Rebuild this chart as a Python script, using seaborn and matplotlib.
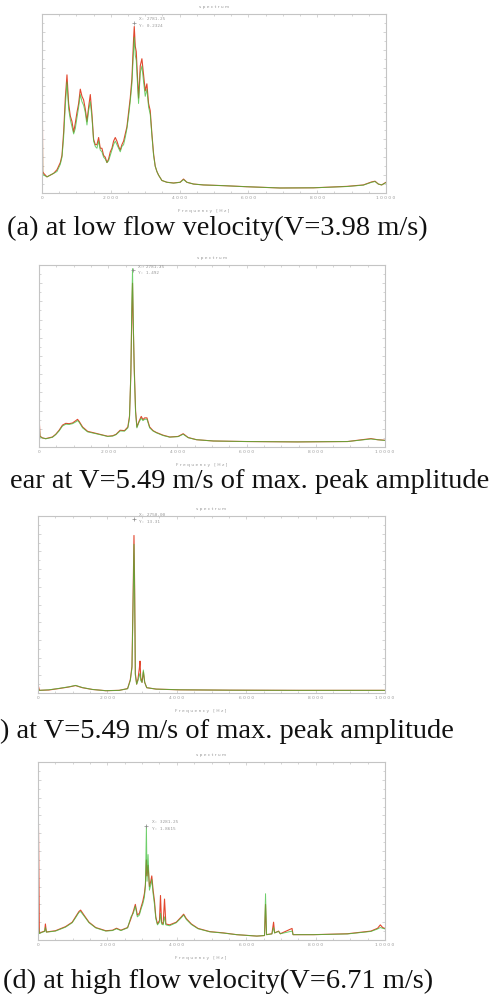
import matplotlib
matplotlib.use("Agg")
import matplotlib.pyplot as plt
import seaborn as sns
import pandas as pd
from matplotlib.ticker import MultipleLocator

# (a) low flow velocity
freq_a = [0, 20, 48, 145, 242, 339, 436, 532, 581, 629, 678, 726, 774, 823, 871, 920,
          968, 1016, 1065, 1113, 1162, 1210, 1258, 1307, 1355, 1404, 1452, 1500, 1549,
          1597, 1646, 1694, 1742, 1791, 1839, 1888, 1936, 1985, 2033, 2081, 2130, 2178,
          2227, 2275, 2323, 2372, 2420, 2469, 2517, 2565, 2614, 2662, 2682, 2711, 2740,
          2778, 2807, 2836, 2856, 2904, 2953, 3001, 3049, 3098, 3146, 3195, 3243, 3291,
          3340, 3388, 3485, 3630, 3824, 4017, 4114, 4211, 4405, 4695, 5276, 5954, 6922,
          7890, 8858, 9342, 9584, 9681, 9777, 9874, 10000]
red_a = [0.98, 0.12, 0.11, 0.09, 0.10, 0.11, 0.13, 0.17, 0.21, 0.34, 0.53, 0.66, 0.50,
         0.43, 0.40, 0.34, 0.39, 0.45, 0.50, 0.58, 0.54, 0.52, 0.47, 0.40, 0.48, 0.55,
         0.44, 0.30, 0.27, 0.27, 0.31, 0.25, 0.25, 0.21, 0.20, 0.17, 0.19, 0.23, 0.25,
         0.29, 0.31, 0.29, 0.26, 0.24, 0.27, 0.29, 0.33, 0.37, 0.45, 0.53, 0.64, 0.86,
         0.93, 0.82, 0.79, 0.64, 0.53, 0.63, 0.71, 0.75, 0.66, 0.57, 0.61, 0.50, 0.46,
         0.33, 0.22, 0.15, 0.12, 0.10, 0.07, 0.06, 0.056, 0.06, 0.078, 0.06, 0.05,
         0.045, 0.041, 0.035, 0.028, 0.029, 0.037, 0.045, 0.062, 0.066, 0.05, 0.045, 0.06]
green_a = [0.90, 0.11, 0.10, 0.09, 0.10, 0.11, 0.12, 0.16, 0.20, 0.31, 0.49, 0.62, 0.47,
           0.41, 0.37, 0.33, 0.36, 0.42, 0.48, 0.55, 0.51, 0.49, 0.45, 0.38, 0.46, 0.51,
           0.42, 0.29, 0.26, 0.25, 0.29, 0.24, 0.23, 0.20, 0.19, 0.17, 0.18, 0.21, 0.24,
           0.27, 0.29, 0.27, 0.25, 0.23, 0.26, 0.27, 0.31, 0.36, 0.43, 0.51, 0.61, 0.80,
           0.87, 0.77, 0.74, 0.60, 0.50, 0.60, 0.67, 0.71, 0.62, 0.54, 0.58, 0.48, 0.44,
           0.32, 0.21, 0.15, 0.12, 0.10, 0.07, 0.06, 0.055, 0.06, 0.075, 0.06, 0.05,
           0.045, 0.041, 0.035, 0.028, 0.029, 0.036, 0.044, 0.060, 0.064, 0.05, 0.045, 0.058]

# (b) V=5.49 m/s, near max peak
freq_b = [0, 29, 97, 194, 388, 484, 581, 678, 775, 872, 969, 1066, 1114, 1163, 1260,
          1405, 1647, 1986, 2132, 2229, 2345, 2471, 2568, 2616, 2655, 2684, 2703, 2723,
          2752, 2791, 2829, 2888, 2955, 3004, 3052, 3120, 3198, 3295, 3391, 3585, 3779,
          4021, 4167, 4312, 4554, 5039, 6008, 7461, 8915, 9593, 9787, 10000]
red_b = [0.18, 0.06, 0.05, 0.046, 0.055, 0.07, 0.092, 0.12, 0.13, 0.128, 0.132, 0.145,
         0.152, 0.14, 0.11, 0.086, 0.075, 0.059, 0.062, 0.07, 0.092, 0.09, 0.11, 0.17,
         0.40, 0.75, 0.90, 0.68, 0.44, 0.20, 0.11, 0.14, 0.168, 0.15, 0.16, 0.16, 0.11,
         0.09, 0.08, 0.065, 0.055, 0.058, 0.073, 0.052, 0.04, 0.033, 0.03, 0.028, 0.03,
         0.046, 0.04, 0.037]
green_b = [0.14, 0.055, 0.05, 0.045, 0.053, 0.068, 0.088, 0.115, 0.125, 0.124, 0.128,
           0.138, 0.145, 0.135, 0.105, 0.083, 0.073, 0.058, 0.06, 0.068, 0.088, 0.087,
           0.105, 0.16, 0.42, 0.80, 0.98, 0.72, 0.42, 0.19, 0.105, 0.135, 0.158, 0.145,
           0.152, 0.153, 0.105, 0.088, 0.078, 0.063, 0.054, 0.057, 0.07, 0.051, 0.04,
           0.033, 0.03, 0.028, 0.03, 0.044, 0.04, 0.036]

# (c) V=5.49 m/s, max peak
freq_c = [0, 39, 309, 600, 890, 1083, 1277, 1567, 1954, 2340, 2582, 2660, 2708, 2737,
          2766, 2785, 2805, 2843, 2882, 2921, 2940, 2959, 2998, 3037, 3075, 3133, 3404,
          4081, 5532, 7466, 10000]
red_c = [0.05, 0.015, 0.017, 0.025, 0.034, 0.042, 0.03, 0.02, 0.013, 0.015, 0.025,
         0.075, 0.15, 0.50, 0.89, 0.60, 0.11, 0.05, 0.08, 0.14, 0.18, 0.09, 0.06, 0.12,
         0.06, 0.03, 0.022, 0.018, 0.016, 0.015, 0.015]
green_c = [0.03, 0.015, 0.018, 0.026, 0.035, 0.043, 0.031, 0.02, 0.013, 0.015, 0.024,
           0.07, 0.14, 0.46, 0.84, 0.56, 0.10, 0.05, 0.07, 0.10, 0.11, 0.07, 0.06, 0.13,
           0.06, 0.03, 0.022, 0.018, 0.016, 0.015, 0.015]

# (d) high flow velocity
freq_d = [0, 39, 116, 193, 213, 242, 503, 793, 986, 1083, 1180, 1228, 1325, 1470, 1663,
          1954, 2147, 2263, 2389, 2582, 2679, 2747, 2805, 2863, 2921, 2979, 3017, 3066,
          3095, 3124, 3143, 3172, 3211, 3250, 3279, 3317, 3356, 3395, 3443, 3501, 3530,
          3559, 3607, 3646, 3685, 3791, 3985, 4130, 4197, 4275, 4420, 4613, 4952, 5338,
          5725, 6306, 6528, 6557, 6586, 6741, 6789, 6818, 6934, 6983, 7321, 7350, 7950,
          8917, 9594, 9787, 9865, 9932, 10000]
red_d = [0.96, 0.038, 0.045, 0.05, 0.09, 0.045, 0.052, 0.075, 0.10, 0.13, 0.16, 0.168,
         0.14, 0.10, 0.07, 0.052, 0.055, 0.066, 0.055, 0.07, 0.12, 0.16, 0.20, 0.14, 0.15,
         0.19, 0.215, 0.26, 0.31, 0.45, 0.36, 0.42, 0.30, 0.33, 0.36, 0.28, 0.22, 0.13,
         0.09, 0.11, 0.25, 0.10, 0.09, 0.23, 0.09, 0.085, 0.10, 0.13, 0.145, 0.12, 0.09,
         0.065, 0.047, 0.04, 0.03, 0.022, 0.025, 0.20, 0.03, 0.035, 0.10, 0.04, 0.05,
         0.035, 0.065, 0.03, 0.03, 0.035, 0.05, 0.066, 0.085, 0.07, 0.065]
green_d = [0.10, 0.036, 0.043, 0.048, 0.07, 0.044, 0.05, 0.072, 0.097, 0.125, 0.155,
           0.16, 0.135, 0.097, 0.068, 0.05, 0.053, 0.063, 0.053, 0.068, 0.13, 0.15, 0.19,
           0.13, 0.14, 0.18, 0.20, 0.24, 0.30, 0.64, 0.33, 0.48, 0.28, 0.31, 0.34, 0.26,
           0.20, 0.12, 0.085, 0.10, 0.15, 0.09, 0.085, 0.13, 0.085, 0.08, 0.097, 0.125,
           0.14, 0.115, 0.087, 0.063, 0.046, 0.039, 0.03, 0.022, 0.025, 0.26, 0.03, 0.034,
           0.07, 0.04, 0.048, 0.035, 0.05, 0.03, 0.03, 0.034, 0.048, 0.062, 0.07, 0.066,
           0.062]

freq_ticks = [0, 2000, 4000, 6000, 8000, 10000]
tick_labels = ["0", "2 0 0 0", "4 0 0 0", "6 0 0 0", "8 0 0 0", "1 0 0 0 0"]

markers = [(2682, 0.95, "X: 2781.25", "Y: 0.2324"),
           (2703, 0.97, "X: 2781.25", "Y: 1.492"),
           (2766, 0.985, "X: 2750.00", "Y: 13.31"),
           (3124, 0.64, "X: 3281.25", "Y: 1.8615")]

captions = ["(a) at low flow velocity(V=3.98 m/s)",
            "ear at V=5.49 m/s of max. peak amplitude",
            ") at V=5.49 m/s of max. peak amplitude",
            "(d) at high flow velocity(V=6.71 m/s)"]

panels = [(freq_a, red_a, green_a), (freq_b, red_b, green_b),
          (freq_c, red_c, green_c), (freq_d, red_d, green_d)]

# axes boxes in pixels: left, top, right, bottom
boxes = [(42, 14, 386, 193), (39, 265, 385, 447), (38, 516, 385, 693), (38, 762, 385, 940)]
cap_pos = [(7, 235), (10, 488), (0, 738), (3, 988)]

sns.set_style("white")
W, H = 498, 996
fig = plt.figure(figsize=(W / 100, H / 100), dpi=100)

frame_c = "#c4c4c4"
txt_c = "#9a9a9a"

for i, (fr, rd, gr) in enumerate(panels):
    l, t, r, b = boxes[i]
    ax = fig.add_axes([l / W, 1 - b / H, (r - l) / W, (b - t) / H])
    df = pd.DataFrame({"freq": fr, "red": rd, "green": gr})
    sns.lineplot(data=df, x="freq", y="red", ax=ax, color="#e2472e", lw=0.8, estimator=None)
    sns.lineplot(data=df, x="freq", y="green", ax=ax, color="#3fbf3a", lw=0.7, alpha=0.75,
                 estimator=None)
    ax.set_xlim(0, 10000)
    ax.set_ylim(0, 1)
    ax.set_xlabel("")
    ax.set_ylabel("")
    for s in ax.spines.values():
        s.set_color(frame_c)
        s.set_linewidth(0.8)
    ax.set_xticks(freq_ticks)
    ax.set_xticklabels(tick_labels)
    ax.xaxis.set_minor_locator(MultipleLocator(500))
    ax.yaxis.set_major_locator(MultipleLocator(0.1))
    ax.yaxis.set_minor_locator(MultipleLocator(0.05))
    ax.set_yticklabels([])
    ax.tick_params(which="both", direction="in", top=True, right=True, left=True,
                   bottom=True, color=frame_c, width=0.5)
    ax.tick_params(which="major", length=2.5)
    ax.tick_params(which="minor", length=1.5)
    ax.tick_params(axis="x", labelsize=3.2, labelcolor=txt_c, pad=2.5)
    ax.text(0.5, 1.03, "s p e c t r u m", transform=ax.transAxes, ha="center",
            va="bottom", fontsize=3.2, color=txt_c)
    ax.text(0.47, -0.09, "F r e q u e n c y   [ H z ]", transform=ax.transAxes,
            ha="center", va="top", fontsize=3.2, color=txt_c)
    mx, my, l1, l2 = markers[i]
    ax.plot([mx], [my], marker="+", color="#888888", ms=3, mew=0.5)
    ax.text(mx + 150, my + 0.01, l1, fontsize=3.2, color=txt_c, va="bottom", family="DejaVu Sans Mono")
    ax.text(mx + 150, my - 0.005, l2, fontsize=3.2, color=txt_c, va="top", family="DejaVu Sans Mono")

for (x, y), cap in zip(cap_pos, captions):
    fig.text(x / W, 1 - y / H, cap, ha="left", va="baseline", fontsize=20.5,
             family=["Liberation Serif", "DejaVu Serif"], color="#111111")

fig.savefig("out.png", dpi=100)
